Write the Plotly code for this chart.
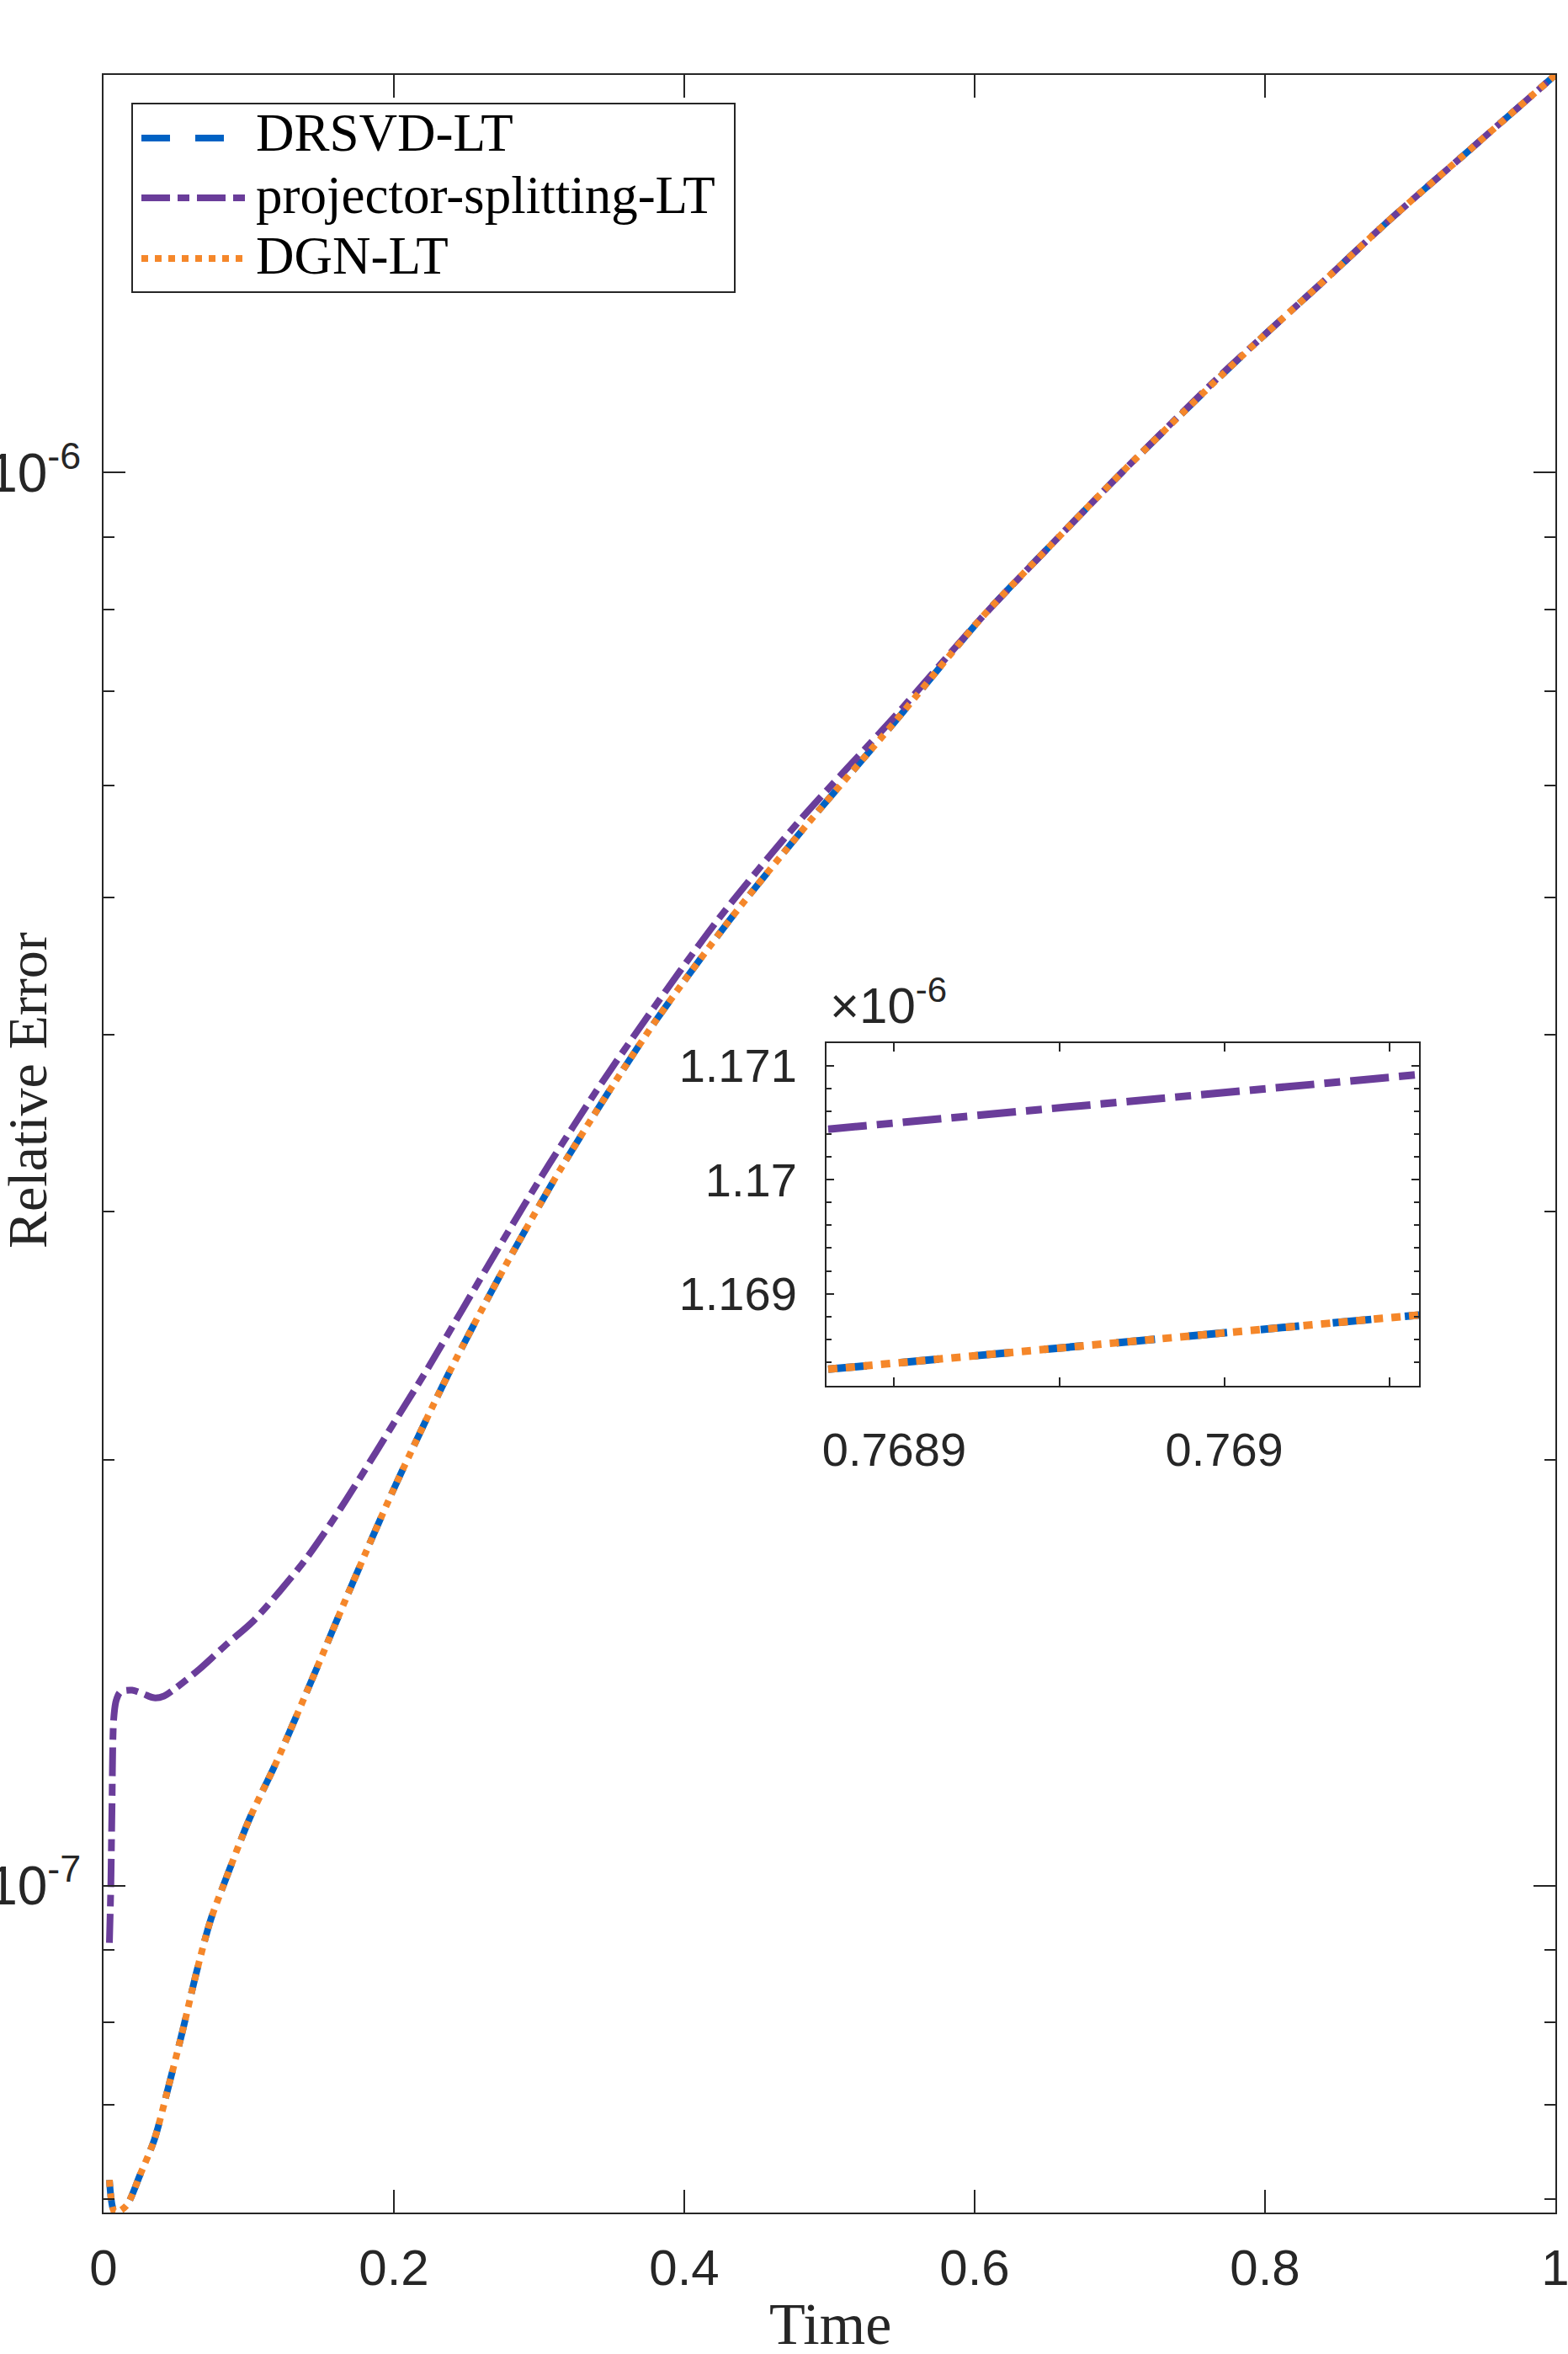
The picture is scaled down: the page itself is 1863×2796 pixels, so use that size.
import math
import plotly.graph_objects as go

# ---------------- data ----------------
t_proj = [0.00406, 0.00504, 0.0058, 0.00696, 0.0087, 0.0116, 0.0197, 0.0272, 0.0348,
          0.0417, 0.0487, 0.0661, 0.0852, 0.1026, 0.1217, 0.1391, 0.1565, 0.1762,
          0.1994, 0.2226, 0.2475, 0.2707, 0.2895, 0.3072, 0.3386, 0.3693, 0.4232, 0.4794,
          0.5449, 0.6052, 0.6533, 0.7014, 0.769, 0.8, 0.8417, 0.8852, 0.9432, 1.0]
err_proj = [9.11e-8, 1.0e-7, 1.131e-7, 1.31e-7, 1.352e-7, 1.371e-7, 1.375e-7, 1.367e-7,
            1.358e-7, 1.362e-7, 1.377e-7, 1.423e-7, 1.483e-7, 1.537e-7, 1.617e-7,
            1.701e-7, 1.804e-7, 1.94e-7, 2.12e-7, 2.316e-7, 2.56e-7, 2.811e-7, 3.028e-7,
            3.242e-7, 3.639e-7, 4.046e-7, 4.825e-7, 5.67e-7, 6.717e-7, 7.9e-7, 8.9e-7,
            1.0e-6, 1.1705e-6, 1.252e-6, 1.3696e-6, 1.507e-6, 1.699e-6, 1.911e-6]

t_dgn = [0.00406, 0.0079, 0.0157, 0.0253, 0.035, 0.0446, 0.0543, 0.0639, 0.0736, 0.0833,
         0.1007, 0.1181, 0.1333, 0.149, 0.1645, 0.1797, 0.1913, 0.2029, 0.2377, 0.2765,
         0.3152, 0.3478, 0.3809, 0.4311, 0.4852, 0.5449, 0.6052, 0.6533, 0.7014, 0.769,
         0.8, 0.8417, 0.8852, 0.9432, 1.0]
err_dgn = [6.19e-8, 5.87e-8, 5.935e-8, 6.247e-8, 6.61e-8, 7.197e-8, 7.88e-8, 8.673e-8,
           9.443e-8, 1.0048e-7, 1.116e-7, 1.2168e-7, 1.3214e-7, 1.442e-7, 1.574e-7,
           1.712e-7, 1.823e-7, 1.938e-7, 2.303e-7, 2.742e-7, 3.219e-7, 3.643e-7, 4.1e-7,
           4.82e-7, 5.645e-7, 6.658e-7, 7.9e-7, 8.9e-7, 1.0e-6, 1.1686e-6, 1.252e-6,
           1.3696e-6, 1.507e-6, 1.699e-6, 1.911e-6]

t_drsvd = [0.00406, 0.0079, 0.0157, 0.0253, 0.035, 0.0446, 0.0543, 0.0639, 0.0736, 0.0833,
           0.1007, 0.1181, 0.1333, 0.149, 0.1645, 0.1797, 0.1913, 0.2029, 0.2377, 0.2765,
           0.3152, 0.3478, 0.3809, 0.4311, 0.4852, 0.5449, 0.6052, 0.6533, 0.7014, 0.769,
           0.8, 0.8417, 0.8852, 0.9432, 1.0]
err_drsvd = [6.19e-8, 5.87e-8, 5.935e-8, 6.247e-8, 6.61e-8, 7.197e-8, 7.88e-8, 8.673e-8,
             9.443e-8, 1.0048e-7, 1.116e-7, 1.2168e-7, 1.3214e-7, 1.442e-7, 1.574e-7,
             1.712e-7, 1.823e-7, 1.938e-7, 2.303e-7, 2.742e-7, 3.219e-7, 3.643e-7, 4.1e-7,
             4.82e-7, 5.645e-7, 6.658e-7, 7.9e-7, 8.9e-7, 1.0e-6, 1.1686e-6, 1.252e-6,
             1.3696e-6, 1.507e-6, 1.699e-6, 1.911e-6]

# zoomed inset
inset_t = [0.76888, 0.76906]
inset_proj = [1.170442e-6, 1.170923e-6]
inset_dgn = [1.168338e-6, 1.168816e-6]
inset_drsvd = [1.168338e-6, 1.168816e-6]

series_names = ["DRSVD-LT", "projector-splitting-LT", "DGN-LT"]

# axis ticks
x_ticks = [0, 0.2, 0.4, 0.6, 0.8, 1.0]
x_ticktext = ["0", "0.2", "0.4", "0.6", "0.8", "1"]
y_ticks = [1e-7, 1e-6]
y_ticktext = ["10<sup>-7</sup>", "10<sup>-6</sup>"]
y_minor = [6e-8, 7e-8, 8e-8, 9e-8, 2e-7, 3e-7, 4e-7, 5e-7, 6e-7, 7e-7, 8e-7, 9e-7]
y_limits = [5.87e-8, 1.911e-6]

ix_ticks = [0.7689, 0.769]
ix_ticktext = ["0.7689", "0.769"]
ix_minor = [0.76895, 0.76905]
ix_limits = [0.7688795, 0.769059]
iy_ticks = [1.169e-6, 1.170e-6, 1.171e-6]
iy_ticktext = ["1.169", "1.17", "1.171"]
iy_minor = [1.1684e-6, 1.1686e-6, 1.1688e-6, 1.1692e-6, 1.1694e-6, 1.1696e-6, 1.1698e-6,
            1.1702e-6, 1.1704e-6, 1.1706e-6, 1.1708e-6]
iy_limits = [1.168193e-6, 1.171196e-6]

# ---------------- style ----------------
BLUE = "#0062C4"
PURPLE = "#6A3D9A"
ORANGE = "#F5872A"
AX = "#262626"
SANS = "Liberation Sans, Arial, sans-serif"
SERIF = "Liberation Serif, Times New Roman, serif"

W, H = 1863, 2796
L, R, T, B = 123, 1848, 89, 2628

def px(x):
    return (x - L) / (R - L)

def py(y):
    return (B - y) / (B - T)

styles = {
    "DRSVD-LT": dict(color=BLUE, dash="34px,30px"),
    "projector-splitting-LT": dict(color=PURPLE, dash="34px,9px,14px,9px"),
    "DGN-LT": dict(color=ORANGE, dash="8px,8px"),
}
inset_styles = {
    "DRSVD-LT": dict(color=BLUE, dash="46px,40px"),
    "projector-splitting-LT": dict(color=PURPLE, dash="46px,12px,19px,12px"),
    "DGN-LT": dict(color=ORANGE, dash="11px,10px"),
}

fig = go.Figure()
main_data = {
    "DRSVD-LT": (t_drsvd, err_drsvd),
    "projector-splitting-LT": (t_proj, err_proj),
    "DGN-LT": (t_dgn, err_dgn),
}
inset_data = {
    "DRSVD-LT": inset_drsvd,
    "projector-splitting-LT": inset_proj,
    "DGN-LT": inset_dgn,
}
for name in series_names:
    tx, ty = main_data[name]
    fig.add_trace(go.Scatter(x=tx, y=ty, mode="lines", name=name, showlegend=False,
                             line=dict(width=8, shape="spline", smoothing=0.8,
                                       **styles[name])))
for name in series_names:
    fig.add_trace(go.Scatter(x=inset_t, y=inset_data[name], mode="lines", name=name,
                             showlegend=False, xaxis="x2", yaxis="y2",
                             line=dict(width=9, **inset_styles[name])))

axis_common = dict(showline=True, linewidth=2, linecolor=AX, mirror="ticks",
                   ticks="inside", tickwidth=2, tickcolor=AX, showgrid=False,
                   zeroline=False, automargin=False, ticklabeloverflow="allow")

fig.update_layout(
    template="none",
    width=W, height=H,
    margin=dict(l=L, r=W - R, t=T, b=H - B, pad=0, autoexpand=False),
    paper_bgcolor="white", plot_bgcolor="white",
    showlegend=False,
    xaxis=dict(range=[0, 1], tickmode="array", tickvals=x_ticks, ticktext=x_ticktext,
               ticklen=27, tickfont=dict(family=SANS, size=60, color=AX),
               ticklabelstandoff=12, **axis_common),
    yaxis=dict(type="log", range=[math.log10(y_limits[0]), math.log10(y_limits[1])],
               tickmode="array", tickvals=y_ticks, ticktext=y_ticktext, ticklen=26,
               tickfont=dict(family=SANS, size=64, color=AX), ticklabelstandoff=12,
               minor=dict(tickmode="array", tickvals=y_minor, ticks="inside", ticklen=13,
                          tickwidth=2, tickcolor=AX, showgrid=False),
               **axis_common),
    xaxis2=dict(domain=[px(982), px(1686)], anchor="y2", range=ix_limits,
                tickmode="array", tickvals=ix_ticks, ticktext=ix_ticktext, ticklen=10,
                tickfont=dict(family=SANS, size=56, color=AX), ticklabelstandoff=26,
                minor=dict(tickmode="array", tickvals=ix_minor, ticks="inside", ticklen=10,
                           tickwidth=2, tickcolor=AX, showgrid=False),
                **axis_common),
    yaxis2=dict(domain=[py(1646), py(1239)], anchor="x2", range=iy_limits,
                tickmode="array", tickvals=iy_ticks, ticktext=iy_ticktext, ticklen=9,
                tickfont=dict(family=SANS, size=56, color=AX), ticklabelstandoff=22,
                minor=dict(tickmode="array", tickvals=iy_minor, ticks="inside", ticklen=6,
                           tickwidth=2, tickcolor=AX, showgrid=False),
                **axis_common),
)

# ---------------- legend (drawn to mimic MATLAB's) ----------------
shapes = [dict(type="rect", xref="paper", yref="paper", x0=px(157), x1=px(873),
               y0=py(347), y1=py(123), line=dict(color=AX, width=2),
               fillcolor="white", layer="above")]
legend_rows = [164, 235, 307]
text_rows = [158, 232, 304]
annotations = []
for name, ly, ty in zip(series_names, legend_rows, text_rows):
    shapes.append(dict(type="line", xref="paper", yref="paper", x0=px(168), x1=px(294),
                       y0=py(ly), y1=py(ly), layer="above",
                       line=dict(width=8, **styles[name])))
    annotations.append(dict(text=name, xref="paper", yref="paper", x=px(302), y=py(ty),
                            xanchor="left", yanchor="middle", showarrow=False,
                            font=dict(family=SERIF, size=63, color="black")))

annotations.append(dict(text="Relative Error", xref="paper", yref="paper", x=px(32),
                        y=py(1295), xanchor="center", yanchor="middle", textangle=-90,
                        showarrow=False, font=dict(family=SERIF, size=66, color=AX)))
annotations.append(dict(text="Time", xref="paper", yref="paper", x=px(986), y=py(2760),
                        xanchor="center", yanchor="middle", showarrow=False,
                        font=dict(family=SERIF, size=70, color=AX)))
annotations.append(dict(text="\u00d710<sup>-6</sup>", xref="paper", yref="paper",
                        x=px(984), y=py(1230), xanchor="left", yanchor="bottom",
                        showarrow=False, font=dict(family=SANS, size=60, color=AX)))

fig.update_layout(shapes=shapes, annotations=annotations)
fig.write_html("out.html")
